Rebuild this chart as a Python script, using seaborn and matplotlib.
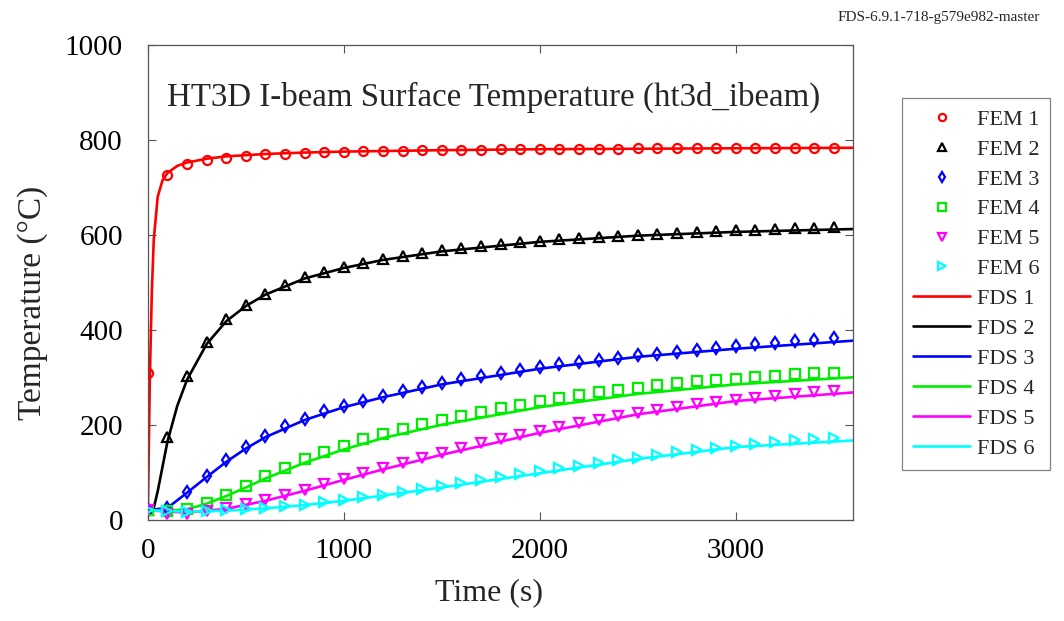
import numpy as np
import pandas as pd
import matplotlib
matplotlib.use("Agg")
import matplotlib.pyplot as plt
import seaborn as sns

sns.set_style("ticks")
plt.rcParams['font.family'] = ['Liberation Serif', 'DejaVu Serif']

# FEM markers
fem_t = [0, 100, 200, 300, 400, 500, 600, 700, 800, 900, 1000, 1100, 1200, 1300, 1400, 1500,
         1600, 1700, 1800, 1900, 2000, 2100, 2200, 2300, 2400, 2500, 2600, 2700, 2800, 2900,
         3000, 3100, 3200, 3300, 3400, 3500]
fem1 = [310, 725, 748, 757, 762, 766, 769, 771, 773, 774, 775, 776, 777, 777, 778, 778,
        779, 779, 780, 780, 780, 781, 781, 781, 781, 782, 782, 782, 782, 782,
        783, 783, 783, 783, 783, 783]
fem2 = [20, 175, 302, 375, 422, 452, 475, 494, 510, 522, 532, 540, 548, 555, 561, 567,
        572, 576, 580, 584, 587, 590, 593, 595, 598, 600, 602, 604, 606, 608,
        609, 611, 612, 614, 615, 616]
fem3 = [20, 25, 58, 92, 125, 153, 177, 197, 213, 228, 240, 251, 261, 271, 280, 288,
        296, 303, 309, 315, 321, 327, 332, 337, 341, 346, 350, 354, 358, 362,
        365, 369, 372, 376, 379, 382]
fem4 = [20, 18, 22, 35, 52, 72, 92, 110, 127, 142, 156, 169, 180, 191, 201, 210,
        219, 227, 235, 242, 249, 256, 262, 268, 273, 278, 283, 288, 292, 295,
        297, 300, 303, 306, 308, 310]
fem5 = [20, 12, 13, 18, 25, 33, 42, 52, 63, 75, 86, 98, 109, 120, 131, 141,
        151, 161, 170, 179, 187, 195, 203, 211, 218, 225, 231, 237, 243, 248,
        252, 257, 261, 265, 268, 272]
fem6 = [20, 18, 17, 18, 20, 22, 25, 28, 32, 37, 42, 47, 53, 59, 65, 71,
        77, 83, 90, 96, 102, 108, 114, 120, 125, 131, 136, 142, 147, 152,
        156, 160, 163, 167, 170, 173]

# FDS lines
fds1_t = [0, 10, 20, 30, 50, 75, 100, 150, 200, 300, 400, 600, 800, 1000, 1500, 2000, 2500, 3000, 3600]
fds1 = [20, 300, 480, 590, 680, 715, 730, 745, 752, 760, 765, 770, 773, 775, 778, 780, 781, 782, 783]
fds2_t = [0, 30, 50, 100, 150, 200, 300, 400, 500, 600, 800, 1000, 1200, 1500, 2000, 2500, 3000, 3600]
fds2 = [20, 25, 60, 165, 240, 295, 370, 418, 450, 474, 508, 530, 547, 565, 585, 598, 606, 612]
fds3_t = [0, 100, 200, 300, 400, 500, 600, 800, 1000, 1200, 1500, 2000, 2500, 3000, 3600]
fds3 = [20, 25, 57, 90, 122, 150, 174, 210, 237, 258, 285, 318, 343, 360, 377]
fds4_t = [0, 100, 200, 300, 400, 500, 600, 800, 1000, 1200, 1500, 2000, 2500, 3000, 3600]
fds4 = [20, 19, 22, 34, 50, 68, 87, 120, 148, 172, 200, 237, 265, 285, 300]
fds5_t = [0, 200, 400, 600, 800, 1000, 1200, 1500, 2000, 2500, 3000, 3600]
fds5 = [20, 15, 23, 40, 61, 84, 106, 137, 183, 222, 250, 268]
fds6_t = [0, 200, 400, 600, 800, 1000, 1200, 1500, 2000, 2500, 3000, 3600]
fds6 = [20, 17, 19, 24, 31, 40, 51, 68, 98, 128, 153, 167]

colors = ['#ff0000', '#000000', '#0000ff', '#00ee00', '#ff00ff', '#00ffff']
markers = ['o', '^', 'd', 's', 'v', '>']

fig = plt.figure(figsize=(10.64, 6.21), dpi=100)
ax = fig.add_axes([0.139, 0.163, 0.663, 0.765])

fem_series = [fem1, fem2, fem3, fem4, fem5, fem6]
fds_series = [(fds1_t, fds1), (fds2_t, fds2), (fds3_t, fds3), (fds4_t, fds4), (fds5_t, fds5), (fds6_t, fds6)]

for i, v in enumerate(fem_series):
    sns.lineplot(x=fem_t, y=v, ax=ax, color=colors[i], marker=markers[i], linestyle='none',
                 markersize=6.5, markerfacecolor='none', markeredgecolor=colors[i],
                 markeredgewidth=1.6, label=f'FEM {i+1}', zorder=3, sort=False)
for i, (t, v) in enumerate(fds_series):
    sns.lineplot(x=t, y=v, ax=ax, color=colors[i], linewidth=1.9,
                 label=f'FDS {i+1}', zorder=2, sort=False)

ax.set_xlim(0, 3600)
ax.set_ylim(0, 1000)
ax.set_xticks([0, 1000, 2000, 3000])
ax.set_yticks([0, 200, 400, 600, 800, 1000])
ax.tick_params(direction='in', top=True, right=True, labelsize=21, length=6, width=0.8,
               colors='#555555', labelcolor='black')
ax.tick_params(axis='y', pad=18)
ax.tick_params(axis='x', pad=13)
for s in ax.spines.values():
    s.set_color('#555555')
    s.set_linewidth(0.9)
ax.set_xlabel('Time (s)', fontsize=23)
ax.set_ylabel('Temperature (°C)', fontsize=24)
ax.xaxis.set_label_coords(0.484, -0.122)
ax.yaxis.set_label_coords(-0.141, 0.457)
ax.text(0.49, 0.89, 'HT3D I-beam Surface Temperature (ht3d_ibeam)', transform=ax.transAxes,
        ha='center', va='center', fontsize=23.7)
fig.text(0.977, 0.972, 'FDS-6.9.1-718-g579e982-master', ha='right', va='center', fontsize=11)

leg = ax.legend(loc='upper left', bbox_to_anchor=(0.848, 0.842), bbox_transform=fig.transFigure,
                fontsize=16, frameon=True, fancybox=False, edgecolor='#666666',
                handlelength=2.55, labelspacing=0.42, borderpad=0.5, handletextpad=0.3,
                borderaxespad=0.0, markerscale=0.8)
leg.get_frame().set_linewidth(0.9)

fig.savefig('out.png', dpi=100)
